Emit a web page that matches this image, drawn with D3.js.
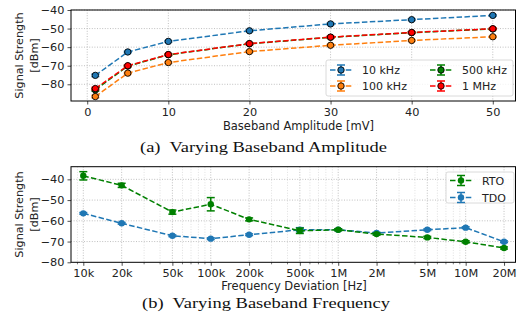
<!DOCTYPE html>
<html>
<head>
<meta charset="utf-8">
<script src="https://cdn.jsdelivr.net/npm/d3@7"></script>
<style>
  body { margin: 0; background: #fff; }
  text { font-family: "DejaVu Sans", sans-serif; fill: #222; }
  .cap { font-family: "Liberation Serif", "DejaVu Serif", serif; fill: #111; }
</style>
</head>
<body>
<div id="chart"></div>
<script>
// (a) amplitude sweep
const amplitudes = [1, 5, 10, 20, 30, 40, 50]
const ampSeries = ['10 kHz', '100 kHz', '500 kHz', '1 MHz']
const amp10k = [-75.2, -62.6, -56.9, -51.2, -47.5, -45.2, -42.9]
const amp100k = [-86.6, -74.0, -68.3, -62.4, -59.0, -56.4, -54.4]
const amp500k = [-83.0, -70.2, -64.1, -58.2, -54.7, -52.2, -50.2]
const amp1M = [-82.3, -70.0, -64.0, -58.1, -54.6, -52.1, -50.1]
const ampErr = [0.6, 0.4, 0.4, 0.4, 0.4, 0.4, 0.4]

// (b) frequency sweep
const freqs = [1e4, 2e4, 5e4, 1e5, 2e5, 5e5, 1e6, 2e6, 5e6, 1e7, 2e7]
const freqLabels = ['10k', '20k', '50k', '100k', '200k', '500k', '1M', '2M', '5M', '10M', '20M']
const rto = [-38.3, -42.9, -55.8, -52.0, -59.3, -64.8, -64.3, -66.4, -68.0, -70.1, -73.1]
const rtoErr = [2.0, 1.0, 1.0, 3.2, 0.7, 1.3, 0.5, 0.5, 0.5, 0.5, 0.5]
const tdo = [-56.4, -61.2, -67.2, -68.6, -66.7, -64.3, -64.3, -65.9, -64.3, -63.3, -70.1]
const tdoErr = [0.4, 0.4, 0.4, 0.4, 0.4, 1.0, 0.4, 0.4, 0.4, 0.4, 0.4]

const W = 517, H = 322
const svg = d3.select('#chart').append('svg').attr('width', W).attr('height', H)

const left = 71, right = 515.5
const tickFont = 11.3

function yLabel(cy) {
  svg.append('text').attr('transform', `translate(23,${cy}) rotate(-90)`)
    .attr('text-anchor', 'middle').attr('font-size', 11.2).text('Signal Strength')
  svg.append('text').attr('transform', `translate(38,${cy}) rotate(-90)`)
    .attr('text-anchor', 'middle').attr('font-size', 11.2).text('[dBm]')
}

function drawSeries(g, x, y, xs, ys, es, color, edge) {
  const line = d3.line().x((d, i) => x(xs[i])).y(d => y(d))
  g.append('path').datum(ys).attr('d', line).attr('fill', 'none')
    .attr('stroke', color).attr('stroke-width', 1.5).attr('stroke-dasharray', '5.5,2.4')
  ys.forEach((v, i) => {
    const cx = x(xs[i])
    g.append('line').attr('x1', cx).attr('x2', cx).attr('y1', y(v - es[i])).attr('y2', y(v + es[i]))
      .attr('stroke', color).attr('stroke-width', 1.5)
    ;[v - es[i], v + es[i]].forEach(e => {
      g.append('line').attr('x1', cx - 4).attr('x2', cx + 4).attr('y1', y(e)).attr('y2', y(e))
        .attr('stroke', color).attr('stroke-width', 1.5)
    })
  })
  g.selectAll(null).data(ys).enter().append('circle')
    .attr('cx', (d, i) => x(xs[i])).attr('cy', d => y(d)).attr('r', 3.2)
    .attr('fill', color).attr('stroke', edge ? '#000' : 'none').attr('stroke-width', 0.9)
}

function legendHandle(g, x0, yy, color, edge) {
  g.append('line').attr('x1', x0).attr('x2', x0 + 22).attr('y1', yy).attr('y2', yy)
    .attr('stroke', color).attr('stroke-width', 1.5).attr('stroke-dasharray', '5.5,2.4')
  g.append('line').attr('x1', x0 + 11).attr('x2', x0 + 11).attr('y1', yy - 5).attr('y2', yy + 5)
    .attr('stroke', color).attr('stroke-width', 1.5)
  ;[yy - 5, yy + 5].forEach(e => g.append('line').attr('x1', x0 + 7).attr('x2', x0 + 15)
    .attr('y1', e).attr('y2', e).attr('stroke', color).attr('stroke-width', 1.5))
  g.append('circle').attr('cx', x0 + 11).attr('cy', yy).attr('r', 3.2).attr('fill', color)
    .attr('stroke', edge ? '#000' : 'none').attr('stroke-width', 0.9)
}

function caption(cx, cy, str, len) {
  svg.append('text').attr('class', 'cap').attr('x', cx).attr('y', cy).attr('text-anchor', 'middle')
    .attr('font-size', 15.5).attr('xml:space', 'preserve')
    .attr('textLength', len).attr('lengthAdjust', 'spacingAndGlyphs').text(str)
}

// ---------- (a) ----------
{
  const top = 10, bottom = 101
  const x = d3.scaleLinear().domain([-2.0, 52.8]).range([left, right])
  const y = d3.scaleLinear().domain([-89, -40]).range([bottom, top])
  const g = svg.append('g')

  const grid = g.append('g').attr('stroke', '#b0b0b0').attr('stroke-width', 0.8).attr('stroke-dasharray', '1,1.6')
  ;[0, 10, 20, 30, 40, 50].forEach(t => grid.append('line').attr('x1', x(t)).attr('x2', x(t)).attr('y1', top).attr('y2', bottom))
  ;[-40, -50, -60, -70, -80].forEach(t => grid.append('line').attr('x1', left).attr('x2', right).attr('y1', y(t)).attr('y2', y(t)))

  const colors = ['#1f77b4', '#ff7f0e', '#008000', '#ff0000']
  ;[amp10k, amp100k, amp500k, amp1M].forEach((s, k) => drawSeries(g, x, y, amplitudes, s, ampErr, colors[k], true))

  const xa = g.append('g').attr('transform', `translate(0,${bottom})`)
    .call(d3.axisBottom(x).tickValues([0, 10, 20, 30, 40, 50]).tickSize(3.5).tickPadding(3))
  const ya = g.append('g').attr('transform', `translate(${left},0)`)
    .call(d3.axisLeft(y).tickValues([-40, -50, -60, -70, -80]).tickSize(3.5).tickPadding(3)
      .tickFormat(d => '\u2212' + Math.abs(d)))
  ;[xa, ya].forEach(a => {
    a.select('.domain').remove()
    a.selectAll('text').attr('font-size', tickFont).attr('fill', '#222')
    a.selectAll('line').attr('stroke', '#222').attr('stroke-width', 0.8)
  })
  g.append('rect').attr('x', left).attr('y', top).attr('width', right - left).attr('height', bottom - top)
    .attr('fill', 'none').attr('stroke', '#000').attr('stroke-width', 1)

  // legend
  const lg = g.append('g')
  lg.append('rect').attr('x', 326).attr('y', 60).attr('width', 187).attr('height', 36).attr('rx', 2)
    .attr('fill', 'rgba(255,255,255,0.8)').attr('stroke', '#d0d0d0').attr('stroke-width', 0.8)
  const pos = [[330, 70], [330, 86], [430, 70], [430, 86]]
  ampSeries.forEach((name, k) => {
    legendHandle(lg, pos[k][0], pos[k][1], colors[k], true)
    lg.append('text').attr('x', pos[k][0] + 32).attr('y', pos[k][1] + 4).attr('font-size', 11).text(name)
  })

  yLabel((top + bottom) / 2)
  svg.append('text').attr('x', 298.5).attr('y', 130).attr('text-anchor', 'middle')
    .attr('font-size', 11.5).text('Baseband Amplitude [mV]')
  caption(263.5, 151.5, '(a)  Varying Baseband Amplitude', 247)
}

// ---------- (b) ----------
{
  const top = 166.7, bottom = 262.3
  const x = d3.scaleLog().domain([Math.pow(10, 3.9035), Math.pow(10, 7.391)]).range([left, right])
  const y = d3.scaleLinear().domain([-80, -33.9]).range([bottom, top])
  const g = svg.append('g')

  const minor = []
  for (let dec = 1e3; dec <= 1e7; dec *= 10) {
    for (let m = 1; m < 10; m++) {
      const v = dec * m
      if (v >= x.domain()[0] && v <= x.domain()[1] && !freqs.includes(v)) minor.push(v)
    }
  }
  const mgrid = g.append('g').attr('stroke', '#d8d8d8').attr('stroke-width', 0.8).attr('stroke-dasharray', '1,1.6')
  minor.forEach(t => mgrid.append('line').attr('x1', x(t)).attr('x2', x(t)).attr('y1', top).attr('y2', bottom))
  const grid = g.append('g').attr('stroke', '#b0b0b0').attr('stroke-width', 0.8).attr('stroke-dasharray', '1,1.6')
  freqs.forEach(t => grid.append('line').attr('x1', x(t)).attr('x2', x(t)).attr('y1', top).attr('y2', bottom))
  ;[-40, -50, -60, -70].forEach(t => grid.append('line').attr('x1', left).attr('x2', right).attr('y1', y(t)).attr('y2', y(t)))

  drawSeries(g, x, y, freqs, tdo, tdoErr, '#1f77b4', false)
  drawSeries(g, x, y, freqs, rto, rtoErr, '#008000', false)

  const xa = g.append('g').attr('transform', `translate(0,${bottom})`)
    .call(d3.axisBottom(x).tickValues(freqs).tickSize(3.5).tickPadding(3)
      .tickFormat((d, i) => freqLabels[i]))
  // minor ticks
  minor.forEach(t => g.append('line').attr('x1', x(t)).attr('x2', x(t)).attr('y1', bottom).attr('y2', bottom + 2)
    .attr('stroke', '#222').attr('stroke-width', 0.6))
  const ya = g.append('g').attr('transform', `translate(${left},0)`)
    .call(d3.axisLeft(y).tickValues([-40, -50, -60, -70, -80]).tickSize(3.5).tickPadding(3)
      .tickFormat(d => '\u2212' + Math.abs(d)))
  ;[xa, ya].forEach(a => {
    a.select('.domain').remove()
    a.selectAll('text').attr('font-size', tickFont).attr('fill', '#222')
    a.selectAll('line').attr('stroke', '#222').attr('stroke-width', 0.8)
  })
  g.append('rect').attr('x', left).attr('y', top).attr('width', right - left).attr('height', bottom - top)
    .attr('fill', 'none').attr('stroke', '#000').attr('stroke-width', 1)

  const lg = g.append('g')
  lg.append('rect').attr('x', 446).attr('y', 172).attr('width', 68).attr('height', 31).attr('rx', 2)
    .attr('fill', 'rgba(255,255,255,0.8)').attr('stroke', '#d0d0d0').attr('stroke-width', 0.8)
  legendHandle(lg, 450, 180.5, '#008000', false)
  lg.append('text').attr('x', 482).attr('y', 184.5).attr('font-size', 11).text('RTO')
  legendHandle(lg, 450, 197.5, '#1f77b4', false)
  lg.append('text').attr('x', 482).attr('y', 201.5).attr('font-size', 11).text('TDO')

  yLabel((top + bottom) / 2)
  svg.append('text').attr('x', 294).attr('y', 290).attr('text-anchor', 'middle')
    .attr('font-size', 11.5).text('Frequency Deviation [Hz]')
  caption(266, 308, '(b)  Varying Baseband Frequency', 248)
}
</script>
</body>
</html>
